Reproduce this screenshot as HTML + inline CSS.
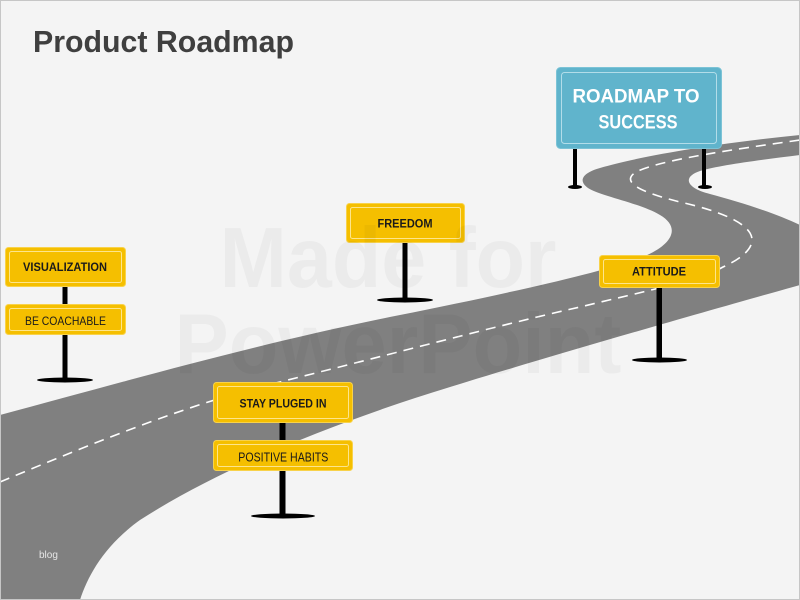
<!DOCTYPE html>
<html>
<head>
<meta charset="utf-8">
<style>
  html, body { margin:0; padding:0; background:#f4f4f4; }
  body { width:800px; height:600px; overflow:hidden; }
  svg { display:block; }
</style>
</head>
<body>
<svg width="800" height="600" viewBox="0 0 800 600" xmlns="http://www.w3.org/2000/svg">
  <rect x="0" y="0" width="800" height="600" fill="#f4f4f4"/>

  <!-- Road -->
  <path fill="#808080" d="
    M0,415
    C120,383 250,345 400,315
    C500,295 600,273 640,258
    C672,246 682,228 660,215
    C640,203 600,196 588,188
    C578,181 582,173 600,168
    C640,156 720,143 800,135
    L800,155
    C760,160 720,165 700,171
    C682,177 686,188 710,194
    C740,202 775,213 800,225
    L800,285
    C700,313 500,370 400,403
    C300,437 210,475 140,520
    C105,545 88,575 80,600
    L0,600 Z"/>

  <!-- Center dashed line -->
  <path fill="none" stroke="#ffffff" stroke-width="1.6" stroke-dasharray="10,7" d="
    M0,482
    C100,440 200,400 280,382
    C400,352 500,325 580,307
    C650,290 700,280 723,267
    C745,257 757,245 750,233
    C742,220 715,210 680,202
    C640,192 620,182 636,172
    C660,160 730,150 800,140"/>

  <!-- Title -->
  <text x="33" y="52" font-family="Liberation Sans, sans-serif" font-weight="bold" font-size="31" fill="#3f3f3f" textLength="261" lengthAdjust="spacingAndGlyphs">Product Roadmap</text>

  <!-- blog -->
  <text x="39" y="558" font-family="Liberation Sans, sans-serif" font-size="10" fill="#e6e6e6">blog</text>

  <!-- ===== Blue sign posts ===== -->
  <rect x="573" y="146" width="4" height="41" fill="#000"/>
  <ellipse cx="575" cy="187" rx="7" ry="2" fill="#000"/>
  <rect x="702" y="146" width="4" height="41" fill="#000"/>
  <ellipse cx="705" cy="187" rx="7" ry="2" fill="#000"/>
  <!-- Blue sign -->
  <rect x="556.5" y="67.5" width="165" height="81" rx="4" fill="#60b4cc" stroke="#7cc3d6" stroke-width="1"/>
  <rect x="561.5" y="72.5" width="155" height="71" rx="3" fill="none" stroke="#b2dde9" stroke-width="1"/>
  <text x="636" y="102.7" text-anchor="middle" font-family="Liberation Sans, sans-serif" font-weight="bold" font-size="19.5" fill="#ffffff" textLength="127" lengthAdjust="spacingAndGlyphs">ROADMAP TO</text>
  <text x="638" y="128.3" text-anchor="middle" font-family="Liberation Sans, sans-serif" font-weight="bold" font-size="19.5" fill="#ffffff" textLength="79" lengthAdjust="spacingAndGlyphs">SUCCESS</text>

  <!-- ===== VISUALIZATION / BE COACHABLE ===== -->
  <rect x="62.5" y="285" width="5" height="95" fill="#000"/>
  <ellipse cx="65" cy="380" rx="28" ry="2.5" fill="#000"/>
  <rect x="5.5" y="247.5" width="120" height="39" rx="3" fill="#f5bf00" stroke="#f8d24a" stroke-width="1"/>
  <rect x="9.5" y="251.5" width="112" height="31" rx="2" fill="none" stroke="#fde58c" stroke-width="1"/>
  <text x="65" y="271" text-anchor="middle" font-family="Liberation Sans, sans-serif" font-weight="bold" font-size="12" fill="#1a1a1a" textLength="84" lengthAdjust="spacingAndGlyphs">VISUALIZATION</text>
  <rect x="5.5" y="304.5" width="120" height="30" rx="3" fill="#f5bf00" stroke="#f8d24a" stroke-width="1"/>
  <rect x="9.5" y="308.5" width="112" height="22" rx="2" fill="none" stroke="#fde58c" stroke-width="1"/>
  <text x="65.5" y="325" text-anchor="middle" font-family="Liberation Sans, sans-serif" font-size="12" fill="#1a1a1a" textLength="81" lengthAdjust="spacingAndGlyphs">BE COACHABLE</text>

  <!-- ===== FREEDOM ===== -->
  <rect x="402.5" y="241" width="5" height="59" fill="#000"/>
  <ellipse cx="405" cy="300" rx="28" ry="2.5" fill="#000"/>
  <rect x="346.5" y="203.5" width="118" height="39" rx="3" fill="#f5bf00" stroke="#f8d24a" stroke-width="1"/>
  <rect x="350.5" y="207.5" width="110" height="31" rx="2" fill="none" stroke="#fde58c" stroke-width="1"/>
  <text x="405" y="227.3" text-anchor="middle" font-family="Liberation Sans, sans-serif" font-weight="bold" font-size="12" fill="#1a1a1a" textLength="55" lengthAdjust="spacingAndGlyphs">FREEDOM</text>

  <!-- ===== ATTITUDE ===== -->
  <rect x="656.5" y="286" width="5.5" height="74" fill="#000"/>
  <ellipse cx="659.5" cy="360" rx="27.5" ry="2.5" fill="#000"/>
  <rect x="599.5" y="255.5" width="120" height="32" rx="3" fill="#f5bf00" stroke="#f8d24a" stroke-width="1"/>
  <rect x="603.5" y="259.5" width="112" height="24" rx="2" fill="none" stroke="#fde58c" stroke-width="1"/>
  <text x="659" y="275.7" text-anchor="middle" font-family="Liberation Sans, sans-serif" font-weight="bold" font-size="12" fill="#1a1a1a" textLength="54" lengthAdjust="spacingAndGlyphs">ATTITUDE</text>

  <!-- ===== STAY PLUGED IN / POSITIVE HABITS ===== -->
  <rect x="279.5" y="421" width="6" height="95" fill="#000"/>
  <ellipse cx="283" cy="516" rx="32" ry="2.5" fill="#000"/>
  <rect x="213.5" y="382.5" width="139" height="40" rx="3" fill="#f5bf00" stroke="#f8d24a" stroke-width="1"/>
  <rect x="217.5" y="386.5" width="131" height="32" rx="2" fill="none" stroke="#fde58c" stroke-width="1"/>
  <text x="283" y="407.3" text-anchor="middle" font-family="Liberation Sans, sans-serif" font-weight="bold" font-size="12" fill="#1a1a1a" textLength="87" lengthAdjust="spacingAndGlyphs">STAY PLUGED IN</text>
  <rect x="213.5" y="440.5" width="139" height="30" rx="3" fill="#f5bf00" stroke="#f8d24a" stroke-width="1"/>
  <rect x="217.5" y="444.5" width="131" height="22" rx="2" fill="none" stroke="#fde58c" stroke-width="1"/>
  <text x="283.3" y="461.5" text-anchor="middle" font-family="Liberation Sans, sans-serif" font-size="12.5" fill="#1a1a1a" textLength="90" lengthAdjust="spacingAndGlyphs">POSITIVE HABITS</text>

  <!-- Watermark -->
  <text x="388" y="287" text-anchor="middle" font-family="Liberation Sans, sans-serif" font-weight="bold" font-size="85" fill="#000" fill-opacity="0.035" textLength="337" lengthAdjust="spacingAndGlyphs">Made for</text>
  <text x="398" y="373" text-anchor="middle" font-family="Liberation Sans, sans-serif" font-weight="bold" font-size="85" fill="#000" fill-opacity="0.035" textLength="447" lengthAdjust="spacingAndGlyphs">PowerPoint</text>

  <!-- Frame -->
  <rect x="0.5" y="0.5" width="799" height="599" fill="none" stroke="#c6c6c6" stroke-width="1"/>
</svg>
</body>
</html>
